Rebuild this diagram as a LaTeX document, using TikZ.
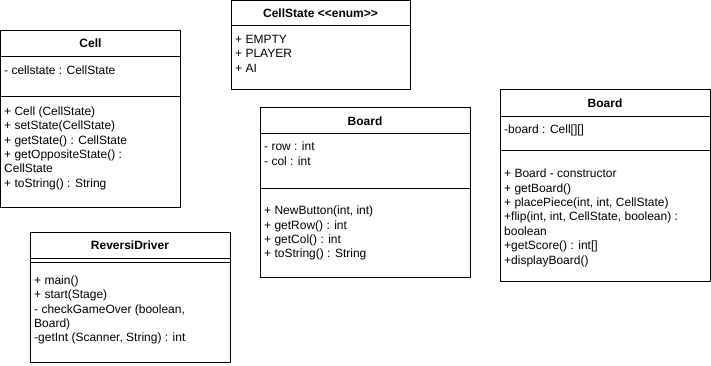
\documentclass[tikz,border=0pt]{standalone}
\usepackage{fontspec}
\setmainfont{Liberation Sans}
\begin{document}
\begin{tikzpicture}[x=1pt,y=-1pt,
  box/.style={draw=black, line width=1pt},
  ttl/.style={font=\fontsize{12}{14.4}\selectfont\bfseries, inner sep=0pt, anchor=center},
  mem/.style={font=\fontsize{12}{14.4}\selectfont, inner sep=0pt, anchor=north west, align=left},
]
\useasboundingbox (0,0) rectangle (711,366);

% Cell
\draw[box] (0.5,30.5) rectangle (180.5,207);
\draw[box] (0.5,56.5) -- (180.5,56.5);
\draw[box] (0.5,97) -- (180.5,97);
\node[ttl] (cellT) at (90.5,43.5) {Cell};
\node[mem] (cellA) at (4,64) {\strut- cellstate : CellState};
\node[mem] (cellM) at (4,105) {\strut+ Cell (CellState)\\\strut+ setState(CellState)\\\strut+ getState() : CellState\\\strut+ getOppositeState() :\\\strut CellState\\\strut+ toString() : String};

% CellState enumeration
\draw[box] (231,0.5) rectangle (410,90);
\draw[box] (231,26) -- (410,26);
\node[ttl] (stateT) at (320.5,13.5) {CellState <{}<enum>{}>};
\node[mem] (stateA) at (235,33) {\strut+ EMPTY\\\strut+ PLAYER\\\strut+ AI};

% Board (button grid)
\draw[box] (260,108) rectangle (470,277);
\draw[box] (260,134) -- (470,134);
\draw[box] (260,188) -- (470,188);
\node[ttl] (btnT) at (365,121) {Board};
\node[mem] (btnA) at (264,140.5) {\strut- row : int\\\strut- col : int};
\node[mem] (btnM) at (264,204.5) {\strut+ NewButton(int, int)\\\strut+ getRow() : int\\\strut+ getCol() : int\\\strut+ toString() : String};

% Board (game board)
\draw[box] (500,90) rectangle (710,281);
\draw[box] (500,117) -- (710,117);
\draw[box] (500,151) -- (710,151);
\node[ttl] (brdT) at (605,103.5) {Board};
\node[mem] (brdA) at (504,123.5) {\strut-board : Cell[][]};
\node[mem] (brdM) at (504,167.5) {\strut+ Board - constructor\\\strut+ getBoard()\\\strut+ placePiece(int, int, CellState)\\\strut+flip(int, int, CellState, boolean) :\\\strut boolean\\\strut+getScore() : int[]\\\strut+displayBoard()};

% ReversiDriver
\draw[box] (30.5,232) rectangle (230,362);
\draw[box] (30.5,258) -- (230,258);
\draw[box] (30.5,262) -- (230,262);
\node[ttl] (drvT) at (130,245) {ReversiDriver};
\node[mem] (drvM) at (34,274) {\strut+ main()\\\strut+ start(Stage)\\\strut- checkGameOver (boolean,\\\strut Board)\\\strut-getInt (Scanner, String) : int};
\end{tikzpicture}
\end{document}
